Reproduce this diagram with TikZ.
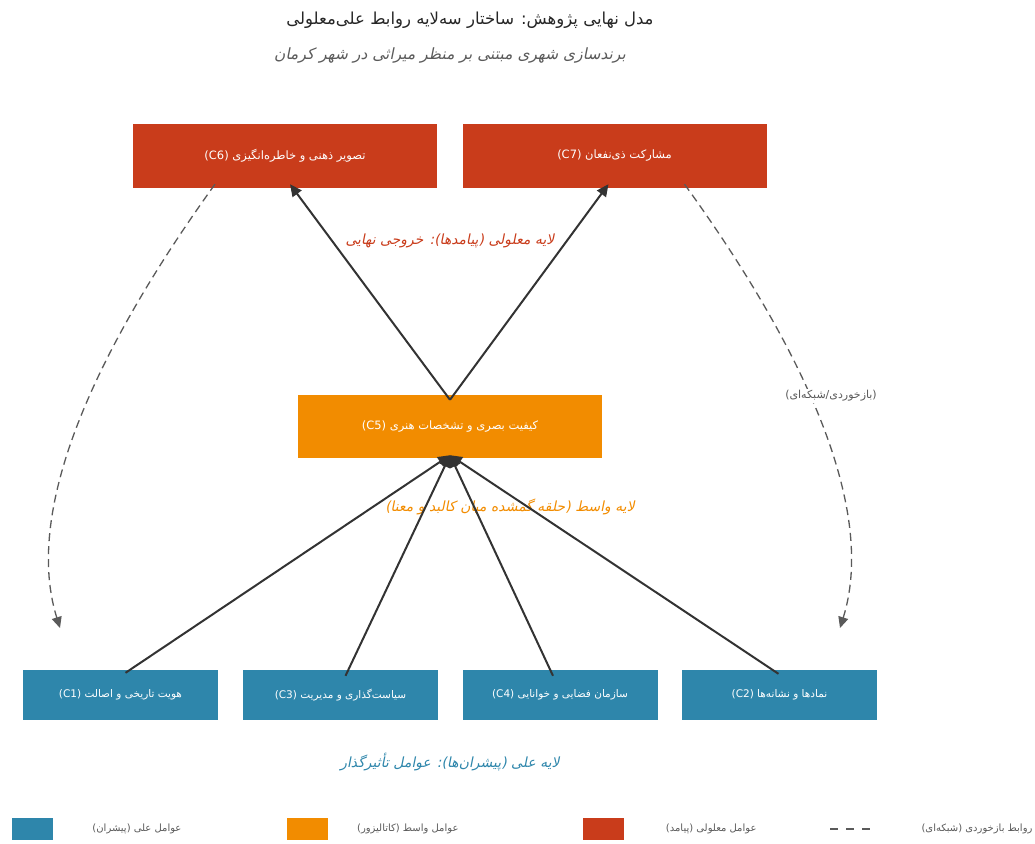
\documentclass[tikz,border=0pt]{standalone}
\usepackage{fontspec}
\setmainfont{DejaVu Sans}
\newfontfamily\fa[Script=Arabic]{DejaVu Sans}
\newfontfamily\fait[Script=Arabic,FakeSlant=0.2]{DejaVu Sans}
\TeXXeTstate=1
\usetikzlibrary{arrows.meta}
\definecolor{cred}{HTML}{C93C1B}
\definecolor{corange}{HTML}{F28C00}
\definecolor{cblue}{HTML}{2E86AB}
\definecolor{cdark}{HTML}{333333}
\definecolor{cgray}{HTML}{5A5A5A}
\tikzset{
  box/.style={draw=none, text=white, font=\fa\fontsize{11.5}{13}\selectfont, inner sep=0pt},
  redbox/.style={box, fill=cred, minimum width=304pt, minimum height=64pt},
  orbox/.style={box, fill=corange, minimum width=304pt, minimum height=63pt},
  bluebox/.style={box, fill=cblue, minimum width=195pt, minimum height=50pt, font=\fa\fontsize{10.5}{12}\selectfont},
  arr/.style={draw=cdark, line width=2pt, -{Triangle[length=12pt,width=11pt]}},
  fb/.style={draw=cgray, line width=1.3pt, dash pattern=on 8pt off 5pt, -{Triangle[length=11pt,width=10pt]}},
  layerlbl/.style={font=\fait\fontsize{14}{16}\selectfont},
  legtxt/.style={font=\fa\fontsize{10}{12}\selectfont, text=cgray, anchor=east},
}
\begin{document}
\begin{tikzpicture}[x=1pt,y=-1pt]
\useasboundingbox (0,0) rectangle (1035,843);
% titles
\node[font=\fa\fontsize{16.5}{19}\selectfont, text=black!85] (title) at (470,20) {\beginR مدل نهایی پژوهش: ساختار سه‌لایه روابط علی‌معلولی\endR};
\node[font=\fait\fontsize{15.5}{18}\selectfont, text=cgray] (sub) at (450,56) {\beginR برندسازی شهری مبتنی بر منظر میراثی در شهر کرمان\endR};
% boxes
\node[redbox] (c6) at (285,156) {\beginR تصویر ذهنی و خاطره‌انگیزی \beginL(C6)\endL\endR};
\node[redbox] (c7) at (614.5,156) {\beginR مشارکت ذی‌نفعان \beginL(C7)\endL\endR};
\node[orbox] (c5) at (450,426.5) {\beginR کیفیت بصری و تشخصات هنری \beginL(C5)\endL\endR};
\node[bluebox] (c1) at (120.5,695) {\beginR هویت تاریخی و اصالت \beginL(C1)\endL\endR};
\node[bluebox] (c3) at (340.5,695) {\beginR سیاست‌گذاری و مدیریت \beginL(C3)\endL\endR};
\node[bluebox] (c4) at (560,695) {\beginR سازمان فضایی و خوانایی \beginL(C4)\endL\endR};
\node[bluebox] (c2) at (779.5,695) {\beginR نمادها و نشانه‌ها \beginL(C2)\endL\endR};
% layer labels
\node[layerlbl, text=cred] (l3) at (450,241) {\beginR لایه معلولی (پیامدها): خروجی نهایی\endR};
\node[layerlbl, text=corange] (l2) at (510,507) {\beginR لایه واسط (حلقه گمشده میان کالبد و معنا)\endR};
\node[layerlbl, text=cblue] (l1) at (450,762) {\beginR لایه علی (پیشران‌ها): عوامل تأثیرگذار\endR};
% convergence points
\coordinate (c5in) at ([yshift=3pt]c5.south);
\coordinate (c5out) at ([yshift=-5pt]c5.north);
\coordinate (c1o) at ([xshift=5pt,yshift=-3pt]c1.north);
\coordinate (c3o) at ([xshift=5pt,yshift=-6pt]c3.north);
\coordinate (c4o) at ([xshift=-7pt,yshift=-6pt]c4.north);
\coordinate (c2o) at ([xshift=-1pt,yshift=-4pt]c2.north);
\draw[arr] (c1o) -- (c5in);
\draw[arr] (c3o) -- (c5in);
\draw[arr] (c4o) -- (c5in);
\draw[arr] (c2o) -- (c5in);
\draw[arr] (c5out) -- ([xshift=5pt,yshift=4pt]c6.south);
\draw[arr] (c5out) -- ([xshift=-6pt,yshift=4pt]c7.south);
% feedback
\coordinate (f6) at ([xshift=-70pt,yshift=4pt]c6.south);
\coordinate (f7) at ([xshift=70pt,yshift=4pt]c7.south);
\coordinate (t1) at (60,628);
\coordinate (t2) at (840,628);
\draw[fb] (f6) .. controls (110,330) and (20,500) .. (t1);
\draw[fb] (f7) .. controls (790,330) and (880,500) .. (t2);
\node[font=\fa\fontsize{11}{13}\selectfont, text=cgray, fill=white, inner sep=1pt] (fbl) at (831,396) {\beginR (بازخوردی/شبکه‌ای)\endR};
% legend
\node[fill=cblue, minimum width=41pt, minimum height=22pt, inner sep=0pt] (lg1) at (32.5,829) {};
\node[legtxt] (lt1) at (185,829) {\beginR عوامل علی (پیشران)\endR};
\node[fill=corange, minimum width=41pt, minimum height=22pt, inner sep=0pt] (lg2) at (307.5,829) {};
\node[legtxt] (lt2) at (462,829) {\beginR عوامل واسط (کاتالیزور)\endR};
\node[fill=cred, minimum width=41pt, minimum height=22pt, inner sep=0pt] (lg3) at (603.5,829) {};
\node[legtxt] (lt3) at (760,829) {\beginR عوامل معلولی (پیامد)\endR};
\coordinate (d1) at (830,829);
\coordinate (d2) at (872,829);
\draw[draw=cgray, line width=1.2pt, dash pattern=on 8pt off 8pt] (d1) -- (d2);
\node[legtxt, anchor=west] (lt4) at (918,829) {\beginR روابط بازخوردی (شبکه‌ای)\endR};
\end{tikzpicture}
\end{document}
